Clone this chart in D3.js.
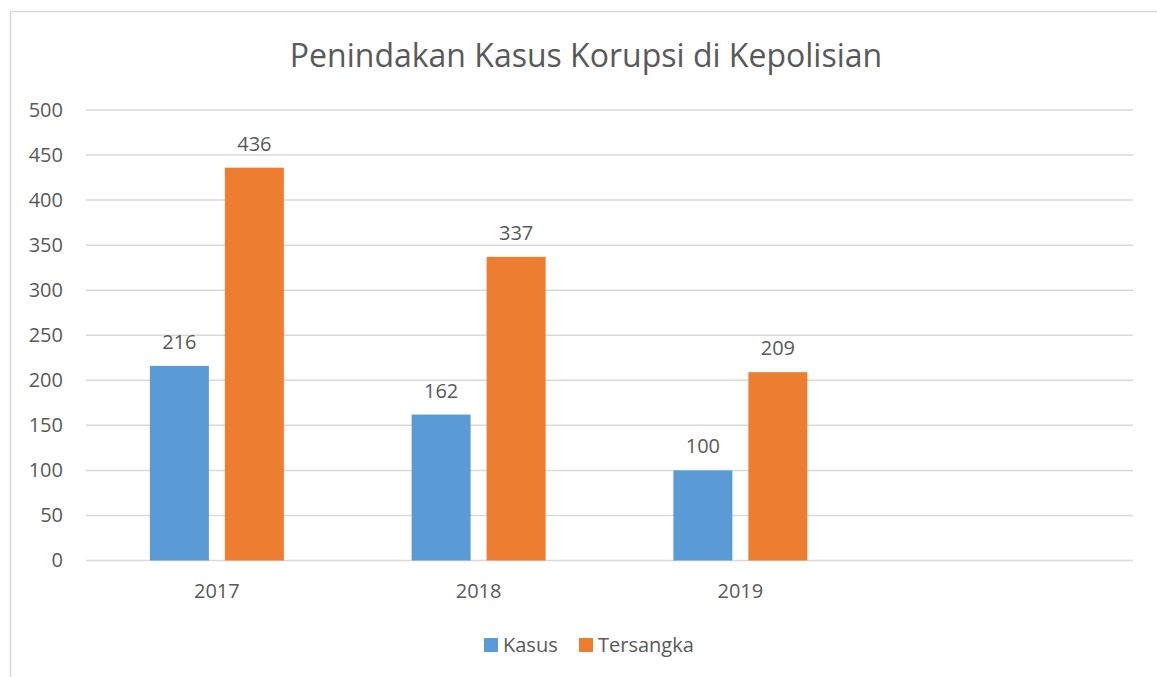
<!DOCTYPE html>
<html>
<head>
<meta charset="utf-8">
<script src="https://cdn.jsdelivr.net/npm/d3@7"></script>
<style>
  body { margin: 0; background: #fff; }
  text { font-family: "Open Sans", sans-serif; fill: #595959; }
</style>
</head>
<body>
<div id="chart"></div>
<script>
// Penindakan Kasus Korupsi di Kepolisian - grouped bars

// data (fourth category is an empty slot in the original)
const years = ["2017", "2018", "2019", ""];
const seriesNames = ["Kasus", "Tersangka"];
const kasus = [216, 162, 100, null];
const tersangka = [436, 337, 209, null];
const yTicks = [0, 50, 100, 150, 200, 250, 300, 350, 400, 450, 500];
const colors = ["#5B9BD5", "#ED7D31"];

const W = 1157, H = 677;
const margin = {top: 110, right: 24, bottom: 116.5, left: 86};
const width = W - margin.left - margin.right,
      height = H - margin.top - margin.bottom;

const svg = d3.select("#chart")
  .append("svg")
    .attr("width", W)
    .attr("height", H);

// outer frame (only left and top edges fall inside the picture)
svg.append("rect")
  .attr("x", 10.5).attr("y", 11.5)
  .attr("width", 1170).attr("height", 700)
  .attr("fill", "none")
  .attr("stroke", "#d9d9d9")
  .attr("stroke-width", 1.5);

// title
svg.append("text")
  .attr("x", 586)
  .attr("y", 67)
  .attr("text-anchor", "middle")
  .style("font-size", "32px")
  .text("Penindakan Kasus Korupsi di Kepolisian");

const g = svg.append("g")
  .attr("transform", `translate(${margin.left},${margin.top})`);

const x = d3.scaleBand()
  .domain(d3.range(years.length))
  .range([0, width])
  .padding(0);

const xSub = d3.scaleBand()
  .domain(seriesNames)
  .range([0, x.bandwidth()])
  .paddingInner(0.2133)
  .paddingOuter(0.8517);

const y = d3.scaleLinear()
  .domain([0, 500])
  .range([height, 0]);

// gridlines
g.selectAll(".grid")
  .data(yTicks)
  .enter()
  .append("line")
    .attr("x1", 0)
    .attr("x2", width)
    .attr("y1", d => y(d))
    .attr("y2", d => y(d))
    .attr("stroke", "#d9d9d9")
    .attr("stroke-width", 1.5);

// y axis labels
const yAxis = g.append("g")
  .call(d3.axisLeft(y).tickValues(yTicks).tickSize(0).tickPadding(23));
yAxis.select(".domain").remove();
yAxis.selectAll("text")
  .style("font-size", "20px")
  .style("font-family", "Open Sans, sans-serif")
  .attr("fill", "#595959");

// x axis labels
const xAxis = g.append("g")
  .attr("transform", `translate(0,${height})`)
  .call(d3.axisBottom(x).tickFormat(i => years[i]).tickSize(0).tickPadding(23));
xAxis.select(".domain").remove();
xAxis.selectAll("text")
  .style("font-size", "20px")
  .style("font-family", "Open Sans, sans-serif")
  .attr("fill", "#595959");

// bars
const rows = [];
years.forEach((yr, i) => {
  [kasus[i], tersangka[i]].forEach((v, j) => {
    if (v != null) rows.push({i: i, series: seriesNames[j], value: v, color: colors[j]});
  });
});

g.selectAll(".bar")
  .data(rows)
  .enter()
  .append("rect")
    .attr("x", d => x(d.i) + xSub(d.series))
    .attr("y", d => y(d.value))
    .attr("width", xSub.bandwidth())
    .attr("height", d => height - y(d.value))
    .attr("fill", d => d.color);

// value labels
g.selectAll(".val")
  .data(rows)
  .enter()
  .append("text")
    .attr("x", d => x(d.i) + xSub(d.series) + xSub.bandwidth() / 2)
    .attr("y", d => y(d.value) - 17)
    .attr("text-anchor", "middle")
    .style("font-size", "20px")
    .text(d => d.value);

// legend
const legend = svg.append("g")
  .attr("transform", "translate(484,638)");
const legX = [0, 95];
seriesNames.forEach((name, j) => {
  legend.append("rect")
    .attr("x", legX[j]).attr("y", 0)
    .attr("width", 14).attr("height", 14)
    .attr("fill", colors[j]);
  legend.append("text")
    .attr("x", legX[j] + 19)
    .attr("y", 14)
    .style("font-size", "20px")
    .text(name);
});
</script>
</body>
</html>
